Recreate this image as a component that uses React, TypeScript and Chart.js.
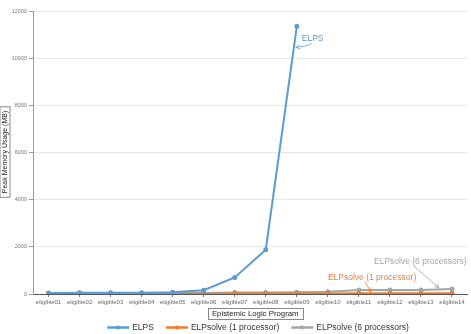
import React, { useEffect, useRef } from "react";
import { Chart, registerables } from "chart.js";

Chart.register(...registerables);

const categories = [
  "eligible01", "eligible02", "eligible03", "eligible04", "eligible05", "eligible06", "eligible07",
  "eligible08", "eligible09", "eligible10", "eligible11", "eligible12", "eligible13", "eligible14",
];
const elpsValues = [40, 50, 50, 50, 70, 160, 700, 1880, 11350, null, null, null, null, null];
const elpsolve1Values = [15, 15, 15, 15, 15, 15, 20, 20, 20, 25, 30, 30, 30, 30];
const elpsolve6Values = [30, 35, 35, 35, 40, 45, 60, 65, 70, 100, 170, 170, 170, 210];
const yTicks = [0, 2000, 4000, 6000, 8000, 10000, 12000];
const seriesNames = ["ELPS", "ELPsolve (1 processor)", "ELPsolve (6 processors)"];
const seriesColors = ["#5B9BD5", "#ED7D31", "#A5A5A5"];
const xTitle = "Epistemic Logic Program";
const yTitle = "Peak Memory Usage (MB)";

const FONT = "'Liberation Sans', Arial, sans-serif";

// annotation: anchored to a data point (dataset, index), with pixel offsets
const annotations = [
  { text: "ELPS", ds: 0, idx: 8, color: "#5B9BD5", tdx: 5, tdy: 12.5, from: [15, 17], ctrl: [12, 20], to: [-1, 21] },
  { text: "ELPsolve (6 processors)", ds: 2, idx: 13, color: "#A5A5A5", tdx: -78, tdy: -27, from: [-38, -23], ctrl: null, to: [-13, -1] },
  { text: "ELPsolve (1 processor)", ds: 1, idx: 10, color: "#ED7D31", tdx: -31, tdy: -16, from: [6, -12], ctrl: null, to: [12, -1] },
];

function arrowHead(ctx: CanvasRenderingContext2D, fx: number, fy: number, tx: number, ty: number) {
  const a = Math.atan2(ty - fy, tx - fx);
  const L = 5;
  ctx.beginPath();
  ctx.moveTo(tx - L * Math.cos(a - 0.45), ty - L * Math.sin(a - 0.45));
  ctx.lineTo(tx, ty);
  ctx.lineTo(tx - L * Math.cos(a + 0.45), ty - L * Math.sin(a + 0.45));
  ctx.stroke();
}

const decorPlugin = {
  id: "decor",
  afterDraw(chart: any) {
    const ctx: CanvasRenderingContext2D = chart.ctx;
    const area = chart.chartArea;
    ctx.save();
    // annotations
    annotations.forEach((a) => {
      const pt = chart.getDatasetMeta(a.ds).data[a.idx];
      if (!pt) return;
      const ax = pt.x, ay = pt.y;
      ctx.fillStyle = a.color;
      ctx.font = `8.5px ${FONT}`;
      ctx.textBaseline = "middle";
      ctx.textAlign = "left";
      ctx.fillText(a.text, ax + a.tdx, ay + a.tdy);
      ctx.strokeStyle = a.color;
      ctx.lineWidth = 0.8;
      ctx.beginPath();
      ctx.moveTo(ax + a.from[0], ay + a.from[1]);
      if (a.ctrl) {
        ctx.quadraticCurveTo(ax + a.ctrl[0], ay + a.ctrl[1], ax + a.to[0], ay + a.to[1]);
      } else {
        ctx.lineTo(ax + a.to[0], ay + a.to[1]);
      }
      ctx.stroke();
      const f = a.ctrl || a.from;
      arrowHead(ctx, ax + f[0], ay + f[1], ax + a.to[0], ay + a.to[1]);
    });

    // x axis title (boxed)
    ctx.font = `7.8px ${FONT}`;
    ctx.fillStyle = "#222";
    ctx.textAlign = "center";
    ctx.textBaseline = "middle";
    const cx = (area.left + area.right) / 2 + 5;
    const xw = ctx.measureText(xTitle).width;
    ctx.fillText(xTitle, cx, 314);
    ctx.strokeStyle = "#888";
    ctx.lineWidth = 1;
    ctx.strokeRect(Math.round(cx - xw / 2 - 4) + 0.5, 308.5, Math.round(xw + 8), 11);

    // y axis title (boxed, rotated)
    ctx.save();
    ctx.translate(5, 152);
    ctx.rotate(-Math.PI / 2);
    ctx.font = `7px ${FONT}`;
    const yw = ctx.measureText(yTitle).width;
    ctx.fillText(yTitle, 0, 0);
    ctx.strokeRect(-yw / 2 - 4, -5, yw + 8, 10);
    ctx.restore();

    // legend
    ctx.font = `8.5px ${FONT}`;
    ctx.textAlign = "left";
    const lineW = 22, gapT = 3, gapItem = 12;
    const widths = seriesNames.map((n) => lineW + gapT + ctx.measureText(n).width);
    const total = widths.reduce((s, w) => s + w, 0) + gapItem * (widths.length - 1);
    let x = 258 - total / 2;
    const ly = 327.5;
    seriesNames.forEach((n, i) => {
      ctx.strokeStyle = seriesColors[i];
      ctx.fillStyle = seriesColors[i];
      ctx.lineWidth = 2.5;
      ctx.beginPath();
      ctx.moveTo(x, ly);
      ctx.lineTo(x + lineW, ly);
      ctx.stroke();
      ctx.beginPath();
      ctx.arc(x + lineW / 2, ly, 2, 0, Math.PI * 2);
      ctx.fill();
      ctx.fillStyle = "#333";
      ctx.fillText(n, x + lineW + gapT, ly + 0.5);
      x += widths[i] + gapItem;
    });
    ctx.restore();
  },
};

export default function App() {
  const ref = useRef<HTMLCanvasElement | null>(null);
  useEffect(() => {
    document.body.style.margin = "0";
    const series = [elpsValues, elpsolve1Values, elpsolve6Values];
    const chart = new Chart(ref.current as HTMLCanvasElement, {
      type: "line",
      data: {
        labels: categories,
        datasets: series.map((d, i) => ({
          label: seriesNames[i],
          data: d,
          borderColor: seriesColors[i],
          backgroundColor: seriesColors[i],
          borderWidth: 2,
          pointRadius: 1.5,
          pointHoverRadius: 1.5,
          tension: 0,
          spanGaps: false,
        })),
      },
      options: {
        responsive: false,
        animation: false,
        layout: { padding: { top: 11, right: 0, bottom: 0, left: 0 } },
        plugins: { legend: { display: false }, tooltip: { enabled: false } },
        scales: {
          x: {
            offset: true,
            grid: { display: true, drawOnChartArea: false, tickLength: 3, tickColor: "#777" },
            border: { color: "#555", width: 1 },
            ticks: { font: { size: 6, family: FONT }, color: "#666", padding: 2, maxRotation: 0, autoSkip: false },
            afterFit: (s: any) => { s.height = 40; },
          },
          y: {
            min: 0,
            max: 12000,
            afterBuildTicks: (s: any) => { s.ticks = yTicks.map((v) => ({ value: v })); },
            grid: { color: "#e8e8e8", tickLength: 4, tickColor: "#999" },
            border: { color: "#999", width: 1 },
            ticks: {
              font: { size: 5.5, family: FONT },
              color: "#777",
              padding: 2,
              callback: (v: any) => String(v),
            },
            afterFit: (s: any) => { s.width = 33; },
          },
        },
      },
      plugins: [decorPlugin],
    });
    return () => chart.destroy();
  }, []);
  return (
    <div style={{ position: "fixed", left: 0, top: 0, width: 471, height: 334, background: "#fff" }}>
      <canvas ref={ref} width={471} height={334} style={{ display: "block" }} />
    </div>
  );
}
